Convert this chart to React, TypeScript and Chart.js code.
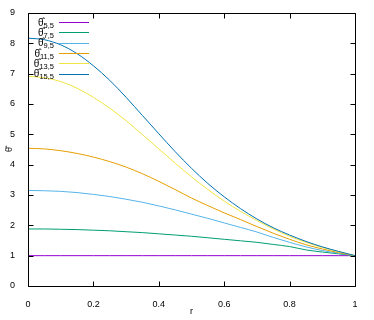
import React, { useEffect, useRef } from "react";
import { Chart, registerables } from "chart.js";

Chart.register(...registerables);

const rValues = [0, 0.05, 0.1, 0.15, 0.2, 0.25, 0.3, 0.35, 0.4, 0.45, 0.5, 0.55, 0.6, 0.65, 0.7, 0.75, 0.8, 0.85, 0.9, 0.95, 1.0];
const theta55 = [1, 1, 1, 1, 1, 1, 1, 1, 1, 1, 1, 1, 1, 1, 1, 1, 1, 1, 1, 1, 1];
const theta75 = [1.88, 1.88, 1.87, 1.86, 1.84, 1.82, 1.79, 1.76, 1.72, 1.68, 1.64, 1.59, 1.54, 1.49, 1.44, 1.37, 1.30, 1.19, 1.12, 1.06, 1.00];
const theta95 = [3.15, 3.14, 3.12, 3.08, 3.02, 2.95, 2.86, 2.76, 2.64, 2.51, 2.37, 2.23, 2.08, 1.93, 1.78, 1.60, 1.44, 1.29, 1.17, 1.08, 1.00];
const theta115 = [4.54, 4.52, 4.46, 4.37, 4.25, 4.10, 3.92, 3.70, 3.45, 3.18, 2.90, 2.65, 2.41, 2.19, 1.96, 1.74, 1.54, 1.36, 1.22, 1.10, 1.00];
const theta135 = [6.91, 6.87, 6.74, 6.52, 6.22, 5.86, 5.45, 4.99, 4.52, 4.05, 3.60, 3.18, 2.80, 2.46, 2.16, 1.88, 1.64, 1.44, 1.27, 1.13, 1.00];
const theta155 = [8.17, 8.12, 7.95, 7.66, 7.26, 6.78, 6.22, 5.62, 5.02, 4.43, 3.88, 3.38, 2.94, 2.55, 2.21, 1.92, 1.68, 1.47, 1.29, 1.14, 1.00];

const seriesSubs = ["5,5", "7,5", "9,5", "11,5", "13,5", "15,5"];
const seriesData = [theta55, theta75, theta95, theta115, theta135, theta155];
const seriesColors = ["#9400d3", "#009e73", "#56b4e9", "#e69f00", "#f0e442", "#0072b2"];

const xTicks = [0, 0.2, 0.4, 0.6, 0.8, 1];
const yTicks = [0, 1, 2, 3, 4, 5, 6, 7, 8, 9];

const FONT = "'Liberation Sans', Arial, sans-serif";
const HAT_THETA = "\u03b8\u0302";

const framePlugin = {
  id: "gnuFrame",
  afterDatasetsDraw(chart: any) {
    const { ctx, chartArea } = chart;
    const { left, right, top, bottom } = chartArea;
    const xs = chart.scales.x;
    const ys = chart.scales.y;
    ctx.save();
    ctx.strokeStyle = "#000";
    ctx.lineWidth = 1;
    ctx.beginPath();
    const L = Math.round(left) + 0.5;
    const R = Math.round(right) + 0.5;
    const T = Math.round(top) + 0.5;
    const B = Math.round(bottom) + 0.5;
    ctx.rect(L, T, R - L, B - T);
    const tl = 5;
    xTicks.forEach((v) => {
      const px = Math.round(xs.getPixelForValue(v)) + 0.5;
      ctx.moveTo(px, B);
      ctx.lineTo(px, B - tl);
      ctx.moveTo(px, T);
      ctx.lineTo(px, T + tl);
    });
    yTicks.forEach((v) => {
      const py = Math.round(ys.getPixelForValue(v)) + 0.5;
      ctx.moveTo(L, py);
      ctx.lineTo(L + tl, py);
      ctx.moveTo(R, py);
      ctx.lineTo(R - tl, py);
    });
    ctx.stroke();
    ctx.restore();
  },
  afterDraw(chart: any) {
    const { ctx } = chart;
    ctx.save();
    const rowY0 = 22;
    const rowStep = 10.35;
    const textRight = 54;
    const lineX0 = 59;
    const lineX1 = 89;
    seriesSubs.forEach((sub, i) => {
      const y = rowY0 + i * rowStep;
      ctx.font = `7.5px ${FONT}`;
      const subW = ctx.measureText(sub).width;
      ctx.fillStyle = "#000";
      ctx.textBaseline = "alphabetic";
      ctx.textAlign = "left";
      ctx.fillText(sub, textRight - subW, y + 5.5);
      ctx.font = `10px ${FONT}`;
      const thW = ctx.measureText("\u03b8").width;
      ctx.fillText(HAT_THETA, textRight - subW - thW, y + 3.5);
      ctx.strokeStyle = seriesColors[i];
      ctx.lineWidth = 1;
      ctx.beginPath();
      ctx.moveTo(lineX0, Math.round(y) + 0.5);
      ctx.lineTo(lineX1, Math.round(y) + 0.5);
      ctx.stroke();
    });
    ctx.restore();
  },
};

export default function App() {
  const canvasRef = useRef<HTMLCanvasElement | null>(null);

  useEffect(() => {
    if (!canvasRef.current) return;
    const datasets = seriesData.map((vals, i) => ({
      label: HAT_THETA + seriesSubs[i],
      data: vals.map((v, j) => ({ x: rValues[j], y: v })),
      borderColor: seriesColors[i],
      backgroundColor: seriesColors[i],
      borderWidth: 1,
      pointRadius: 0,
      fill: false,
      cubicInterpolationMode: "monotone" as const,
      order: seriesData.length - i,
    }));
    const chart = new Chart(canvasRef.current, {
      type: "line",
      data: { datasets },
      options: {
        animation: false,
        responsive: false,
        devicePixelRatio: 1,
        layout: { padding: { top: 13, right: 19, left: 0, bottom: 0 } },
        plugins: { legend: { display: false }, tooltip: { enabled: false } },
        scales: {
          x: {
            type: "linear",
            min: 0,
            max: 1,
            grid: { display: false },
            border: { display: false },
            afterFit: (s: any) => {
              s.height = 34;
            },
            afterBuildTicks: (s: any) => {
              s.ticks = xTicks.map((v) => ({ value: v }));
            },
            ticks: {
              color: "#000",
              font: { family: FONT, size: 9 },
              padding: 5,
              maxRotation: 0,
              callback: (v: any) => String(Math.round(Number(v) * 10) / 10),
            },
            title: {
              display: true,
              text: "r",
              color: "#000",
              font: { family: FONT, size: 9 },
              padding: { top: 0, bottom: 3 },
            },
          },
          y: {
            type: "linear",
            min: 0,
            max: 9,
            grid: { display: false },
            border: { display: false },
            afterFit: (s: any) => {
              s.width = 28;
            },
            afterBuildTicks: (s: any) => {
              s.ticks = yTicks.map((v) => ({ value: v }));
            },
            ticks: {
              color: "#000",
              font: { family: FONT, size: 9 },
              padding: 5,
            },
            title: {
              display: true,
              text: HAT_THETA,
              color: "#000",
              font: { family: FONT, size: 9 },
              padding: { top: 4, bottom: 0 },
            },
          },
        },
      },
      plugins: [framePlugin],
    });
    return () => chart.destroy();
  }, []);

  return (
    <div style={{ position: "absolute", left: 0, top: 0, width: 374, height: 320, background: "#fff" }}>
      <canvas ref={canvasRef} width={374} height={320} />
    </div>
  );
}
